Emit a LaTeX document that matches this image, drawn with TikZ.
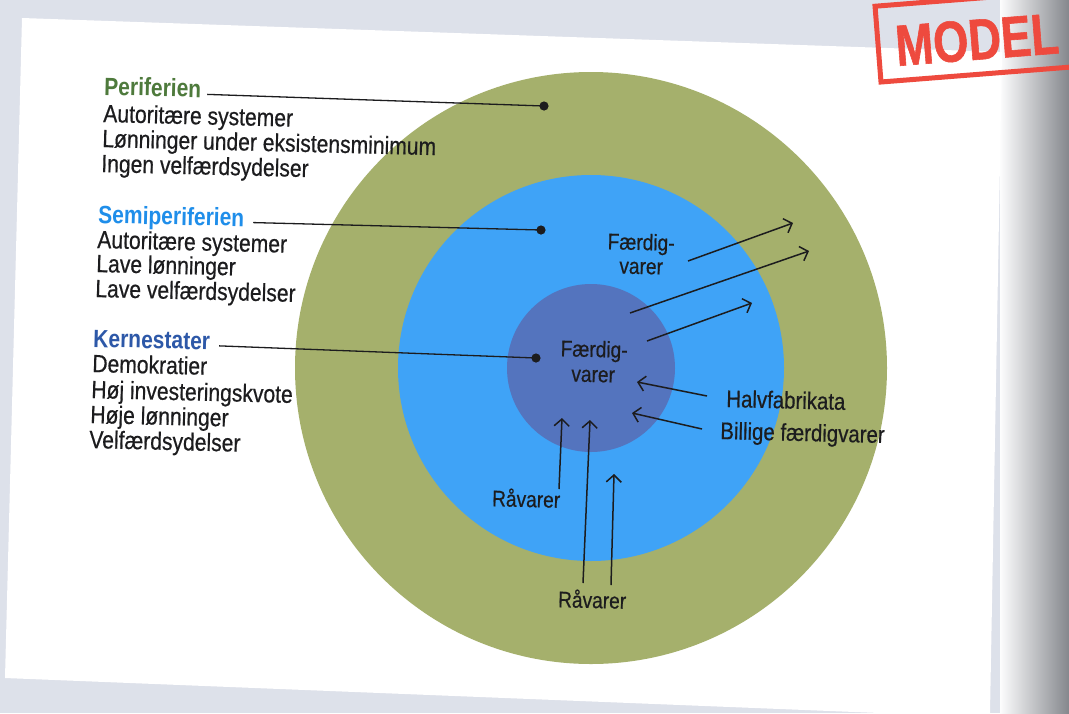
\documentclass[tikz,border=0pt]{standalone}
\usepackage{fontspec}
\setmainfont{Liberation Sans}[FakeStretch=0.84]
\newfontfamily\descfont{Liberation Sans}[FakeStretch=0.85, FakeBold=0.5]
\newfontfamily\stampfont{Liberation Sans Bold}[FakeStretch=0.78, FakeBold=1]
\usetikzlibrary{arrows.meta,calc}
\definecolor{bgc}{HTML}{DDE1EA}
\definecolor{periC}{HTML}{A5B06C}
\definecolor{semiC}{HTML}{3FA3F7}
\definecolor{kernC}{HTML}{5474BE}
\definecolor{periT}{HTML}{4E7A3C}
\definecolor{semiT}{HTML}{1F8EEA}
\definecolor{kernT}{HTML}{2D58A8}
\definecolor{inkC}{HTML}{1C1C1E}
\definecolor{stampC}{HTML}{EE4A3E}
\tikzset{
  head/.style={inner sep=0, anchor=base west, rotate=-1.4, text height=17pt, text depth=4pt, font=\fontsize{25}{26}\selectfont\bfseries},
  desc/.style={inner sep=0, anchor=base west, rotate=-1.4, text height=17pt, text depth=4pt, text=inkC, font=\descfont\fontsize{24.8}{26}\selectfont},
  flow/.style={inner sep=0, anchor=base, rotate=-1.4, text height=16pt, text depth=4pt, text=inkC, font=\descfont\fontsize{22.5}{24}\selectfont},
  flowl/.style={inner sep=0, anchor=base west, rotate=-1.4, text height=17pt, text depth=4pt, text=inkC, font=\descfont\fontsize{24}{26}\selectfont},
  leader/.style={draw=inkC, line width=1.3pt},
  dotmark/.style={fill=inkC},
  arr/.style={draw=inkC, line width=1.5pt, -{Straight Barb[length=7pt,width=15pt,line width=1.5pt]}}
}
\begin{document}
\begin{tikzpicture}[x=1pt,y=-1pt]
\useasboundingbox (0,0) rectangle (1069,713);
% photo background
\fill[bgc] (0,0) rectangle (1069,713);
\shade[left color=white!92!bgc, right color=black!40!bgc] (1000,0) rectangle (1069,713);
\fill[white] (22,18) -- (1002,52) -- (990,713) -- (880,713) -- (5,678) -- cycle;
% stamp
\draw[stampC, line width=5pt, rotate around={4.5:(881,82)}] (881,82) rectangle (1120,6);
\node[inner sep=0, anchor=base west, rotate=4.5, text=stampC, font=\stampfont\fontsize{58}{60}\selectfont] (stamp) at (897,66) {MODEL};
% circles
\coordinate (c) at (591,368);
\fill[periC] (c) circle[radius=296];
\fill[semiC] (c) circle[radius=193];
\fill[kernC] (c) circle[radius=84];
% dots
\coordinate (dp) at (544,106);
\coordinate (ds) at (541,230);
\coordinate (dk) at (536,358);
% left texts
\node[head, text=periT] (ph) at (104,95) {Periferien};
\node[desc] (p1) at (103,122) {Autoritære systemer};
\node[desc] (p2) at (102,147) {Lønninger under eksistensminimum};
\node[desc] (p3) at (101,172) {Ingen velfærdsydelser};
\node[head, text=semiT] (sh) at (98,223) {Semiperiferien};
\node[desc] (s1) at (97,248) {Autoritære systemer};
\node[desc] (s2) at (96,272) {Lave lønninger};
\node[desc] (s3) at (95,297) {Lave velfærdsydelser};
\node[head, text=kernT] (kh) at (93,347) {Kernestater};
\node[desc] (k1) at (92,372) {Demokratier};
\node[desc] (k2) at (91,398) {Høj investeringskvote};
\node[desc] (k3) at (90,423) {Høje lønninger};
\node[desc] (k4) at (89,448) {Velfærdsydelser};
% leaders
\draw[leader] ($(ph.base east)+(6,-3)$) -- (dp);
\draw[leader] ($(sh.base east)+(9,-4)$) -- (ds);
\draw[leader] ($(kh.base east)+(9,-4)$) -- (dk);
\fill[dotmark] (dp) circle[radius=4.6];
\fill[dotmark] (ds) circle[radius=4.6];
\fill[dotmark] (dk) circle[radius=4.6];
% flow labels
\node[flow] (fo1) at (641,250) {Færdig-};
\node[flow] (fo2) at (641,274) {varer};
\node[flow] (fi1) at (594,357) {Færdig-};
\node[flow] (fi2) at (593,382) {varer};
\node[flowl] (hf) at (726,407) {Halvfabrikata};
\node[flowl] (bf) at (720,439) {Billige færdigvarer};
\node[flow] (r1) at (526,507) {Råvarer};
\node[flow] (r2) at (592,608) {Råvarer};
% arrows
\coordinate (a1s) at (688,261); \coordinate (a1e) at (793,223);
\coordinate (a2s) at (630,313); \coordinate (a2e) at (809,251);
\coordinate (a3s) at (647,341); \coordinate (a3e) at (752,303);
\coordinate (a4s) at (707,396); \coordinate (a4e) at (637,382);
\coordinate (a5s) at (702,429); \coordinate (a5e) at (632,413);
\coordinate (a6s) at (559,489); \coordinate (a6e) at (562,418);
\coordinate (a7s) at (583,583); \coordinate (a7e) at (590,420);
\coordinate (a8s) at (611,585); \coordinate (a8e) at (614,474);
\draw[arr] (a1s) -- (a1e);
\draw[arr] (a2s) -- (a2e);
\draw[arr] (a3s) -- (a3e);
\draw[arr] (a4s) -- (a4e);
\draw[arr] (a5s) -- (a5e);
\draw[arr] (a6s) -- (a6e);
\draw[arr] (a7s) -- (a7e);
\draw[arr] (a8s) -- (a8e);
\end{tikzpicture}
\end{document}
